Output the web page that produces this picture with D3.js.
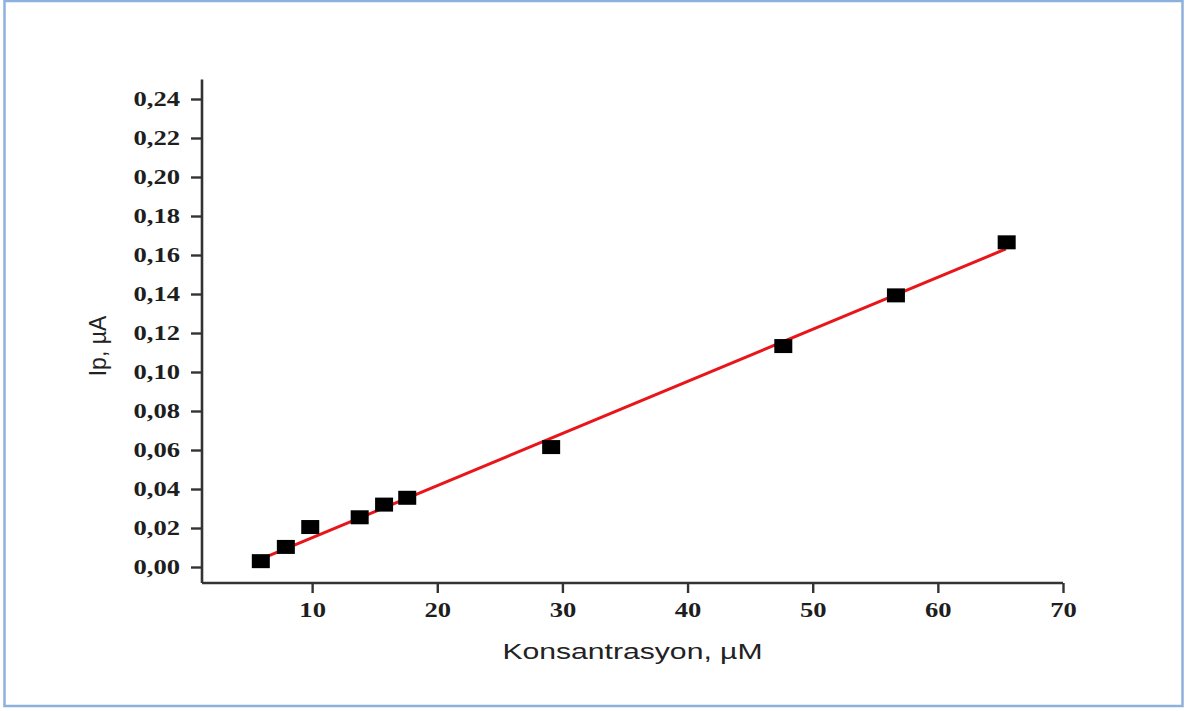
<!DOCTYPE html>
<html>
<head>
<meta charset="utf-8">
<script src="https://cdn.jsdelivr.net/npm/d3@7"></script>
<style>
  html, body { margin: 0; padding: 0; background: #fff; }
  svg { display: block; }
</style>
</head>
<body>
<svg id="chart" width="1186" height="711"></svg>
<script>
// Measured peak current vs. concentration
const concentration = [5.9, 7.9, 9.85, 13.8, 15.75, 17.6, 29.1, 47.65, 56.65, 65.5];
const peakCurrent   = [0.003, 0.0103, 0.0205, 0.0255, 0.032, 0.0355, 0.0615, 0.1133, 0.1393, 0.1665];

// Linear fit drawn between its two end points
const fitX = [5.84, 65.44];
const fitY = [0.0039, 0.1631];

const xMajorTicks = [10, 20, 30, 40, 50, 60, 70];
const xMinorTicks = [5, 15, 25, 35, 45, 55, 65];
const yMajorTicks = [0, 0.02, 0.04, 0.06, 0.08, 0.10, 0.12, 0.14, 0.16, 0.18, 0.20, 0.22, 0.24];
const yMinorTicks = [0.01, 0.03, 0.05, 0.07, 0.09, 0.11, 0.13, 0.15, 0.17, 0.19, 0.21, 0.23, 0.25];

const xTitle = "Konsantrasyon, \u00B5M";
const yTitle = "Ip, \u00B5A";

const svg = d3.select("#chart");

// outer frame
svg.append("rect")
  .attr("x", 4.5).attr("y", 1)
  .attr("width", 1178).attr("height", 705)
  .attr("fill", "none")
  .attr("stroke", "#8db1dd")
  .attr("stroke-width", 2.5);

const x = d3.scaleLinear().domain([1.2, 70]).range([202, 1063]);
const y = d3.scaleLinear().domain([-0.0082, 0.25]).range([583, 79.5]);

const axisColor = "#333";
const tickFont = "'Liberation Serif', 'Times New Roman', serif";
const textStretch = 1.33;

const fmtY = v => d3.format(".2f")(v).replace(".", ",");

// x axis
const gx = svg.append("g").attr("transform", `translate(0,${y.range()[0]})`);
gx.call(d3.axisBottom(x).tickValues(xMinorTicks).tickSize(5).tickFormat(""));
gx.call(d3.axisBottom(x).tickValues(xMajorTicks).tickSize(10).tickPadding(10).tickFormat(d3.format("d")));

// y axis
const gy = svg.append("g").attr("transform", `translate(${x.range()[0]},0)`);
gy.call(d3.axisLeft(y).tickValues(yMinorTicks).tickSize(6).tickFormat(""));
gy.call(d3.axisLeft(y).tickValues(yMajorTicks).tickSize(11).tickPadding(11).tickFormat(fmtY));

[gx, gy].forEach(g => {
  g.selectAll(".domain").attr("stroke", axisColor).attr("stroke-width", 2.6);
  g.selectAll(".tick line").attr("stroke", axisColor).attr("stroke-width", 2.4);
  g.selectAll(".tick text")
    .attr("fill", "#1e1e1e")
    .style("font-family", tickFont)
    .style("font-weight", "bold")
    .style("font-size", "20px")
    .each(function () {
      const t = d3.select(this);
      const tx = +t.attr("x") || 0;
      t.attr("x", tx / textStretch).attr("transform", `scale(${textStretch},1)`);
    });
});
gx.select(".domain").attr("d", `M${x.range()[0]},0H${x.range()[1]}`);
gy.select(".domain").attr("d", `M0,${y.range()[0]}V${y.range()[1]}`);

// fitted line
svg.append("line")
  .attr("x1", x(fitX[0])).attr("y1", y(fitY[0]))
  .attr("x2", x(fitX[1])).attr("y2", y(fitY[1]))
  .attr("stroke", "#e8161b")
  .attr("stroke-width", 3);

// data markers
const mw = 18, mh = 14;
svg.append("g").selectAll("rect")
  .data(concentration.map((c, i) => ({ c, v: peakCurrent[i] })))
  .join("rect")
  .attr("x", d => x(d.c) - mw / 2)
  .attr("y", d => y(d.v) - mh / 2)
  .attr("width", mw).attr("height", mh)
  .attr("fill", "#000");

// axis titles
svg.append("text")
  .attr("transform", `translate(${(x.range()[0] + x.range()[1]) / 2},659) scale(1.37,1)`)
  .attr("text-anchor", "middle")
  .style("font-family", "'Liberation Sans', Arial, sans-serif")
  .style("font-size", "22px")
  .attr("fill", "#222")
  .text(xTitle);

svg.append("text")
  .attr("transform", `translate(106,346) rotate(-90)`)
  .attr("text-anchor", "middle")
  .style("font-family", "'Liberation Sans', Arial, sans-serif")
  .style("font-size", "23px")
  .attr("fill", "#222")
  .text(yTitle);
</script>
</body>
</html>
